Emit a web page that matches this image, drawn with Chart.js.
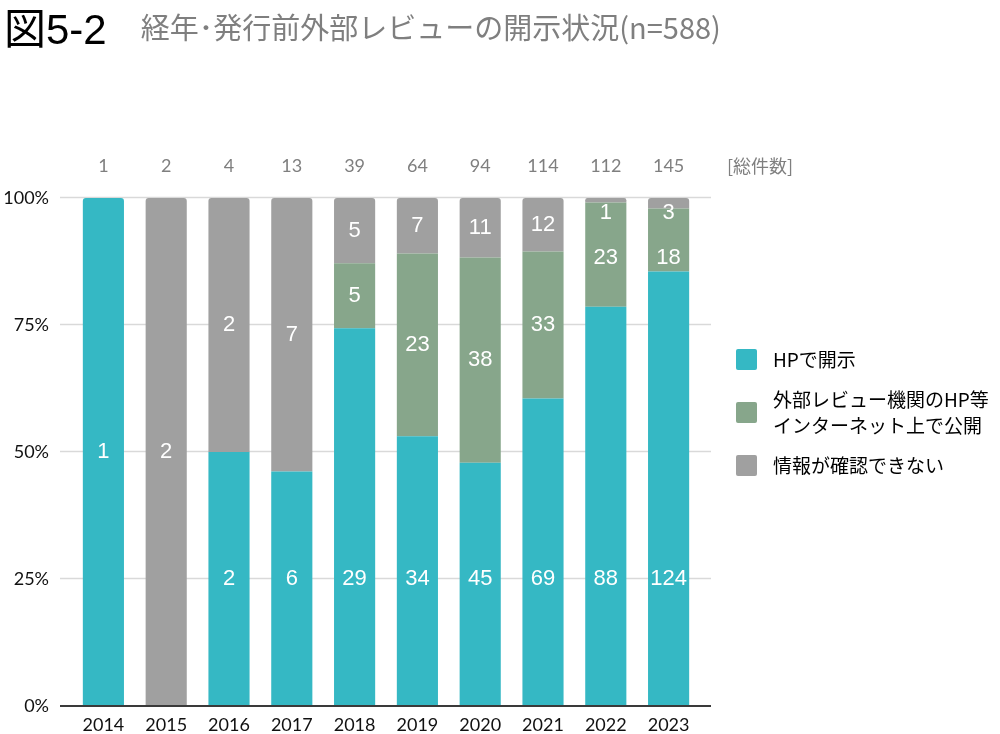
<!DOCTYPE html>
<html>
<head>
<meta charset="utf-8">
<script src="https://cdn.jsdelivr.net/npm/chart.js@4"></script>
<style>
  body { margin: 0; background: #fff; }
  #wrap { position: relative; width: 1000px; height: 734px; }
  #migrafica { position: absolute; left: 0; top: 0; }
  #fig { position: absolute; left: 4px; top: -5px; font: 42px "Liberation Sans", "Noto Sans CJK JP"; color: #000; white-space: nowrap; }
  #fig span { font: 29px "Noto Sans CJK JP"; color: #7f7f7f; margin-left: 34px; position: relative; top: -5px; }
  #legend { position: absolute; left: 736px; top: 346px; font: 19px "Noto Sans CJK JP"; color: #000; }
  #legend .item { display: flex; align-items: center; margin-bottom: 14px; line-height: 26px; white-space: pre-line; }
  #legend .box { width: 21px; height: 21px; margin-right: 16px; flex: none; border-radius: 2px; }
</style>
</head>
<body>
<div id="wrap">
  <canvas id="migrafica" width="1000" height="734"></canvas>
  <div id="fig">図5-2<span>経年･発行前外部レビューの開示状況(n=588)</span></div>
  <div id="legend"></div>
</div>
<script>
let years = ['2014','2015','2016','2017','2018','2019','2020','2021','2022','2023'];
let seriesNames = ['HPで開示', '外部レビュー機関のHP等\nインターネット上で公開', '情報が確認できない'];
let hpCounts = [1, 0, 2, 6, 29, 34, 45, 69, 88, 124];
let extCounts = [0, 0, 0, 0, 5, 23, 38, 33, 23, 18];
let unknownCounts = [0, 2, 2, 7, 5, 7, 11, 12, 1, 3];
let totals = [1, 2, 4, 13, 39, 64, 94, 114, 112, 145];
let yTicks = [0, 25, 50, 75, 100];

const colors = ['#35b8c4', '#87a68b', '#a0a0a0'];
const counts = [hpCounts, extCounts, unknownCounts];
const pct = arr => arr.map((v, i) => v / totals[i] * 100);

const labelPlugin = {
  id: 'labelPlugin',
  beforeDatasetsDraw(chart) {
    const {ctx, chartArea, scales: {y}} = chart;
    ctx.save();
    ctx.strokeStyle = '#d9d9d9';
    ctx.lineWidth = 1.5;
    yTicks.slice(1).forEach(t => {
      const py = Math.round(y.getPixelForValue(t)) - 0.5;
      ctx.beginPath();
      ctx.moveTo(chartArea.left - 12, py);
      ctx.lineTo(chartArea.right + 11, py);
      ctx.stroke();
    });
    ctx.restore();
  },
  afterDatasetsDraw(chart) {
    const {ctx, chartArea, scales: {y}} = chart;
    ctx.save();
    // baseline
    ctx.strokeStyle = '#3a3a3a';
    ctx.lineWidth = 2;
    ctx.beginPath();
    ctx.moveTo(chartArea.left - 12, y.getPixelForValue(0));
    ctx.lineTo(chartArea.right + 11, y.getPixelForValue(0));
    ctx.stroke();

    // values in bars
    ctx.fillStyle = '#fff';
    ctx.font = '22px "Liberation Sans"';
    ctx.textAlign = 'center';
    ctx.textBaseline = 'middle';
    const top = y.getPixelForValue(100);
    years.forEach((yr, j) => {
      let prevY = null;
      for (let i = counts.length - 1; i >= 0; i--) {
        const c = counts[i][j];
        if (!c) continue;
        const el = chart.getDatasetMeta(i).data[j];
        let py = (el.y + el.base) / 2;
        if (i === 0 && c < totals[j]) py = y.getPixelForValue(25);
        py = Math.max(py, top + 15);
        if (prevY !== null) py = Math.max(py, prevY + 45);
        ctx.fillText(String(c), el.x, py);
        prevY = py;
      }
    });

    // totals row
    ctx.fillStyle = '#7f7f7f';
    ctx.font = '18px Lato';
    const meta = chart.getDatasetMeta(0);
    totals.forEach((t, j) => ctx.fillText(String(t), meta.data[j].x, 166));
    ctx.textAlign = 'left';
    ctx.font = '18px "Noto Sans CJK JP"';
    ctx.fillText('[総件数]', 727, 166);
    ctx.restore();
  }
};

const graf = document.getElementById('migrafica').getContext('2d');
const migrafica = new Chart(graf, {
  type: 'bar',
  data: {
    labels: years,
    datasets: seriesNames.map((name, i) => ({
      label: name,
      data: pct(counts[i]),
      backgroundColor: colors[i],
      borderWidth: 0,
      borderRadius: 3,
      borderSkipped: 'start',
      categoryPercentage: 1,
      barPercentage: 0.655
    }))
  },
  options: {
    responsive: false,
    animation: false,
    devicePixelRatio: 1,
    layout: { padding: { top: 198, right: 300, bottom: 0, left: 0 } },
    plugins: { legend: { display: false }, tooltip: { enabled: false } },
    scales: {
      x: {
        stacked: true,
        grid: { display: false },
        border: { display: false },
        ticks: { color: '#111', font: { family: 'Lato', size: 18 }, padding: 0 },
        afterFit(s) { s.height = 28; s.paddingLeft = 0; s.paddingRight = 0; }
      },
      y: {
        stacked: true,
        min: 0,
        max: 100,
        afterBuildTicks(s) { s.ticks = yTicks.map(v => ({ value: v })); },
        grid: { display: false, drawTicks: false },
        border: { display: false },
        ticks: { color: '#111', font: { family: 'Lato', size: 18 }, padding: 23, callback: v => v + '%' },
        afterFit(s) { s.width = 72; s.paddingTop = 0; s.paddingBottom = 0; }
      }
    }
  },
  plugins: [labelPlugin]
});

const legend = document.getElementById('legend');
migrafica.data.datasets.forEach(ds => {
  const item = document.createElement('div');
  item.className = 'item';
  const box = document.createElement('div');
  box.className = 'box';
  box.style.background = ds.backgroundColor;
  const txt = document.createElement('div');
  txt.textContent = ds.label;
  item.appendChild(box);
  item.appendChild(txt);
  legend.appendChild(item);
});
</script>
</body>
</html>
